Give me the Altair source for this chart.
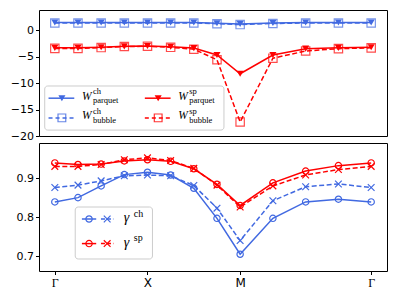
import altair as alt
import pandas as pd

# path coordinate along Γ-X-M-Γ
kpath = [0, 1, 2, 3, 4, 5, 6, 7, 8, 9.414, 10.828, 12.243, 13.657]
tick_vals = [0, 4, 8, 13.657]
tick_names = ["Γ", "X", "M", "Γ"]

w_ch_parquet = [1.45, 1.45, 1.45, 1.45, 1.45, 1.45, 1.45, 1.3, 1.15, 1.35, 1.45, 1.45, 1.45]
w_ch_bubble = [1.35, 1.35, 1.35, 1.35, 1.35, 1.35, 1.35, 1.2, 1.05, 1.25, 1.35, 1.35, 1.35]
w_sp_parquet = [-3.35, -3.35, -3.24, -3.06, -3.0, -3.15, -3.4, -4.7, -8.24, -4.7, -3.5, -3.35, -3.24]
w_sp_bubble = [-3.45, -3.45, -3.3, -3.1, -3.05, -3.25, -3.6, -5.6, -17.35, -5.3, -3.95, -3.5, -3.35]

g_sp_par = [0.939, 0.935, 0.936, 0.944, 0.947, 0.943, 0.924, 0.884, 0.83, 0.888, 0.918, 0.932, 0.939]
g_sp_bub = [0.93, 0.93, 0.935, 0.947, 0.952, 0.945, 0.925, 0.882, 0.826, 0.88, 0.908, 0.922, 0.93]
g_ch_par = [0.839, 0.85, 0.88, 0.909, 0.915, 0.908, 0.874, 0.797, 0.705, 0.797, 0.839, 0.846, 0.839]
g_ch_bub = [0.876, 0.882, 0.893, 0.906, 0.908, 0.906, 0.881, 0.823, 0.74, 0.842, 0.878, 0.885, 0.876]

W = 348
H1 = 126
H2 = 128
sx = W / 365.0


def PX(xr):
    return (xr - 32) * sx


def PY1(yr):
    return (yr - 2) * H1 / 134.3


def PY2(yr):
    return (yr - 136.3) * H2 / 135.4


BLUE = "#4169E1"
RED = "#FF0000"
XSH = "M-1,-1L1,1M-1,1L1,-1"
DASH = [5, 2.5]

xscale = alt.Scale(domain=[-0.683, 14.34], nice=False, zero=False)
y1scale = alt.Scale(domain=[-20, 3.8], nice=False, zero=False)
y2scale = alt.Scale(domain=[0.662, 0.99], nice=False, zero=False)

y1axis = alt.Axis(values=[0, -5, -10, -15, -20], labelExpr="replace(format(datum.value, 'd'), '-', '\u2212')",
                  title=None, minExtent=30, maxExtent=30)
y2axis = alt.Axis(values=[0.7, 0.8, 0.9], format=".1f", title=None, minExtent=30, maxExtent=30)
xaxis = alt.Axis(values=tick_vals, title=None,
                 labelExpr="datum.value < 2 ? 'Γ' : datum.value < 6 ? 'X' : datum.value < 10 ? 'M' : 'Γ'",
                 labelFont={"condition": {"test": "datum.value < 2 || datum.value > 10", "value": "Liberation Serif"},
                            "value": "DejaVu Sans"},
                 labelFontSize=12, labelPadding=3)


def series(vals, color, dash, shape, filled, size, yscale, yax, xax, opacity=1.0):
    df = pd.DataFrame({"k": kpath, "v": vals})
    base = alt.Chart(df).encode(
        x=alt.X("k:Q", scale=xscale, axis=xax),
        y=alt.Y("v:Q", scale=yscale, axis=yax),
    )
    lkw = dict(color=color, strokeWidth=1.5)
    if dash:
        lkw["strokeDash"] = dash
    line = base.mark_line(**lkw)
    pts = base.mark_point(shape=shape, filled=filled, color=color, size=size, strokeWidth=1.2,
                          opacity=opacity)
    return [line, pts]


dummy = pd.DataFrame({"a": [0]})


def rect(x1, x2, y1, y2):
    return alt.Chart(dummy).mark_rect(fill="white", fillOpacity=0.85, stroke="#cccccc", strokeWidth=1,
                                      cornerRadius=3).encode(
        x=alt.value(x1), x2=alt.value(x2), y=alt.value(y1), y2=alt.value(y2))


def rule(x1, x2, y, color, dash=None):
    kw = dict(color=color, strokeWidth=1.5)
    if dash:
        kw["strokeDash"] = dash
    return alt.Chart(dummy).mark_rule(**kw).encode(x=alt.value(x1), x2=alt.value(x2), y=alt.value(y))


def marker(x, y, color, shape, filled, size, opacity=1.0):
    return alt.Chart(dummy).mark_point(shape=shape, filled=filled, color=color, size=size, strokeWidth=1.2,
                                       opacity=opacity).encode(x=alt.value(x), y=alt.value(y))


def text(x, y, s, size, italic=False):
    kw = dict(text=s, align="left", baseline="alphabetic", font="Liberation Serif", fontSize=size,
              color="black")
    if italic:
        kw["fontStyle"] = "italic"
    return alt.Chart(dummy).mark_text(**kw).encode(x=alt.value(x), y=alt.value(y))


# ---------- top panel ----------
top_layers = []
top_layers += series(w_ch_bubble, BLUE, DASH, "square", False, 70, y1scale, y1axis, None, 0.7)
top_layers += series(w_ch_parquet, BLUE, None, "triangle-down", True, 50, y1scale, y1axis, None)
top_layers += series(w_sp_bubble, RED, DASH, "square", False, 70, y1scale, y1axis, None, 0.7)
top_layers += series(w_sp_parquet, RED, None, "triangle-down", True, 50, y1scale, y1axis, None)

leg1 = [rect(PX(38), PX(226), PY1(83), PY1(130))]
rows1 = [(96, None, "triangle-down", True, "parquet", 1.0), (117, [4, 3], "square", False, "bubble", 0.8)]
cols1 = [(42, BLUE, "ch"), (143, RED, "sp")]
for (cx, col, sup) in cols1:
    for (ry, dash, shp, fil, sub, op) in rows1:
        leg1.append(rule(PX(cx), PX(cx + 27), PY1(ry), col, dash))
        leg1.append(marker(PX(cx + 14), PY1(ry), col, shp, fil, 50 if fil else 60, op))
        tx = PX(cx + 35)
        leg1.append(text(tx, PY1(ry + 1.5), "W", 11.5, italic=True))
        leg1.append(text(tx + 11, PY1(ry - 4), sup, 8.5))
        leg1.append(text(tx + 11, PY1(ry + 5), sub, 8.5))

top = alt.layer(*(top_layers + leg1)).properties(width=W, height=H1)

# ---------- bottom panel ----------
bot_layers = []
bot_layers += series(g_ch_bub, BLUE, DASH, XSH, False, 45, y2scale, y2axis, xaxis)
bot_layers += series(g_ch_par, BLUE, None, "circle", False, 40, y2scale, y2axis, xaxis)
bot_layers += series(g_sp_bub, RED, DASH, XSH, False, 45, y2scale, y2axis, xaxis)
bot_layers += series(g_sp_par, RED, None, "circle", False, 40, y2scale, y2axis, xaxis)

leg2 = [rect(PX(70), PX(151), PY2(204), PY2(259))]
for (ry, col, sup) in [(216.7, BLUE, "ch"), (242.7, RED, "sp")]:
    leg2.append(rule(PX(77), PX(92), PY2(ry), col))
    leg2.append(marker(PX(84.5), PY2(ry), col, "circle", False, 40))
    leg2.append(rule(PX(97), PX(110), PY2(ry), col, [4, 2]))
    leg2.append(marker(PX(103.5), PY2(ry), col, XSH, False, 45))
    leg2.append(text(PX(121), PY2(ry + 3.5), "γ", 14, italic=True))
    leg2.append(text(PX(131.5), PY2(ry - 2.5), sup, 10))

bottom = alt.layer(*(bot_layers + leg2)).properties(width=W, height=H2)

chart = alt.vconcat(top, bottom, spacing=0).properties(
    padding={"left": 0, "top": 1, "right": 1, "bottom": 0}
).configure_view(stroke="black", strokeWidth=1).configure_axis(
    labelFont="DejaVu Sans", labelFontSize=11, labelColor="black", tickColor="black",
    tickSize=3.5, domain=False, grid=False
)

chart.save("out.html", embed_options={"renderer": "svg", "actions": False})
